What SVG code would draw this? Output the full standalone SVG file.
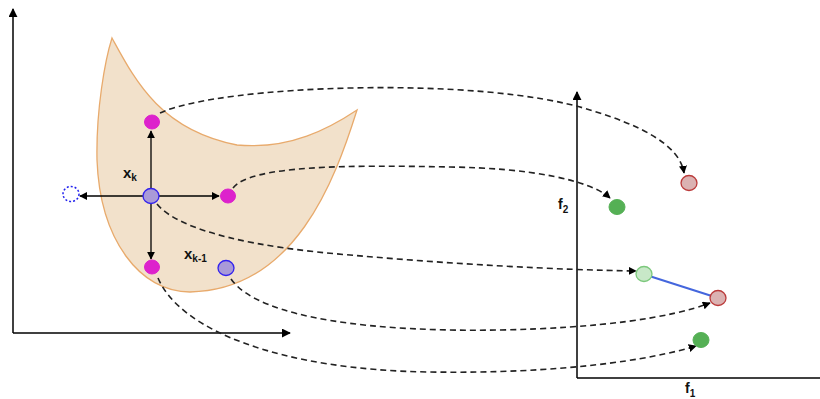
<svg xmlns="http://www.w3.org/2000/svg" width="820" height="399" viewBox="0 0 820 399">
<defs>
<marker id="ah" viewBox="0 0 10 10" refX="9" refY="5" markerWidth="8" markerHeight="8" markerUnits="userSpaceOnUse" orient="auto"><path d="M0,0 L10,5 L0,10 Z" fill="#000"/></marker>
<marker id="ax" viewBox="0 0 10 10" refX="9" refY="5" markerWidth="9" markerHeight="9" markerUnits="userSpaceOnUse" orient="auto"><path d="M0,0 L10,5 L0,10 Z" fill="#000"/></marker>
</defs>
<style>
.axis{stroke:#000;stroke-width:1.5;fill:none}
.arr{stroke:#000;stroke-width:1.3;fill:none}
.dash{stroke:#222;stroke-width:1.6;fill:none;stroke-dasharray:6,4}
.mag{fill:#dd22cc;stroke:#dd22cc;stroke-width:1}
.pur{fill:#a99ad8;stroke:#3322ee;stroke-width:1.3}
.red{fill:#dbb2b2;stroke:#bb3b3b;stroke-width:1.3}
.grn{fill:#55b055;stroke:#55b055;stroke-width:1}
.lgr{fill:#c8e8c8;stroke:#7cc87c;stroke-width:1.3}
.lbl{font-family:"Liberation Sans",Arial,sans-serif;font-weight:bold;fill:#111}
</style>
<g id="axes-left">
<line class="axis" x1="13" y1="333" x2="13" y2="9" marker-end="url(#ax)"/>
<line class="axis" x1="13" y1="333" x2="290" y2="333" marker-end="url(#ax)"/>
</g>
<g id="axes-right">
<line class="axis" x1="577" y1="378" x2="577" y2="92" marker-end="url(#ax)"/>
<line class="axis" x1="577" y1="378" x2="820" y2="378"/>
<text class="lbl" x="558" y="209" font-size="14">f<tspan font-size="10" dy="4">2</tspan></text>
<text class="lbl" x="685" y="393" font-size="14">f<tspan font-size="10" dy="4">1</tspan></text>
</g>
<g id="region">
<path d="M112,38 C 135,80 160,130 237,145 C 290,150 330,128 357,110 C 335,180 295,290 190,292 C 140,292 100,240 97,160 C 96,110 105,60 112,38 Z" fill="#f2e1cb" stroke="#e8aa6c" stroke-width="1.3"/>
</g>
<g id="connectors">
<line class="arr" x1="151" y1="196" x2="151" y2="131" marker-end="url(#ah)"/>
<line class="arr" x1="151" y1="196" x2="219" y2="196" marker-end="url(#ah)"/>
<line class="arr" x1="151" y1="196" x2="151" y2="259" marker-end="url(#ah)"/>
<line class="arr" x1="151" y1="196" x2="80" y2="196" marker-end="url(#ah)"/>
<path class="dash" d="M160,113 C 220,85 480,75 590,110 C 640,125 680,145 684,173" marker-end="url(#ah)"/>
<path class="dash" d="M233,188 C 250,165 350,165 450,167 C 530,168 590,180 610,198" marker-end="url(#ah)"/>
<path class="dash" d="M157,204 C 180,232 260,248 350,255 C 450,264 560,270 636,271" marker-end="url(#ah)"/>
<path class="dash" d="M231,279 C 260,320 380,332 500,330 C 600,328 670,318 710,303" marker-end="url(#ah)"/>
<path class="dash" d="M158,278 C 180,330 280,370 430,372 C 560,374 650,360 696,346" marker-end="url(#ah)"/>
<line x1="643" y1="274" x2="718" y2="298" stroke="#4466dd" stroke-width="2"/>
</g>
<g id="n-top"><ellipse class="mag" cx="152" cy="122" rx="7.5" ry="7"/></g>
<g id="n-right"><ellipse class="mag" cx="228" cy="196" rx="7.5" ry="7"/></g>
<g id="n-bottom"><ellipse class="mag" cx="152" cy="267" rx="7.5" ry="7"/></g>
<g id="n-xk"><ellipse class="pur" cx="151" cy="196" rx="8" ry="7.5"/><text class="lbl" x="123" y="178" font-size="15">x<tspan font-size="10" dy="3">k</tspan></text></g>
<g id="n-left"><ellipse cx="71" cy="194" rx="8" ry="7.5" fill="none" stroke="#2222ee" stroke-width="1.5" stroke-dasharray="2,2"/></g>
<g id="n-xk1"><ellipse class="pur" cx="226" cy="268" rx="8" ry="7.5"/><text class="lbl" x="184" y="259" font-size="15">x<tspan font-size="10" dy="3">k-1</tspan></text></g>
<g id="o-red1"><ellipse class="red" cx="689" cy="183" rx="8" ry="7.5"/></g>
<g id="o-grn1"><ellipse class="grn" cx="617" cy="207" rx="8" ry="7.5"/></g>
<g id="o-lgr"><ellipse class="lgr" cx="644" cy="274" rx="8" ry="7.5"/></g>
<g id="o-red2"><ellipse class="red" cx="718" cy="298" rx="8" ry="7.5"/></g>
<g id="o-grn2"><ellipse class="grn" cx="701" cy="340" rx="8" ry="7.5"/></g>
</svg>
